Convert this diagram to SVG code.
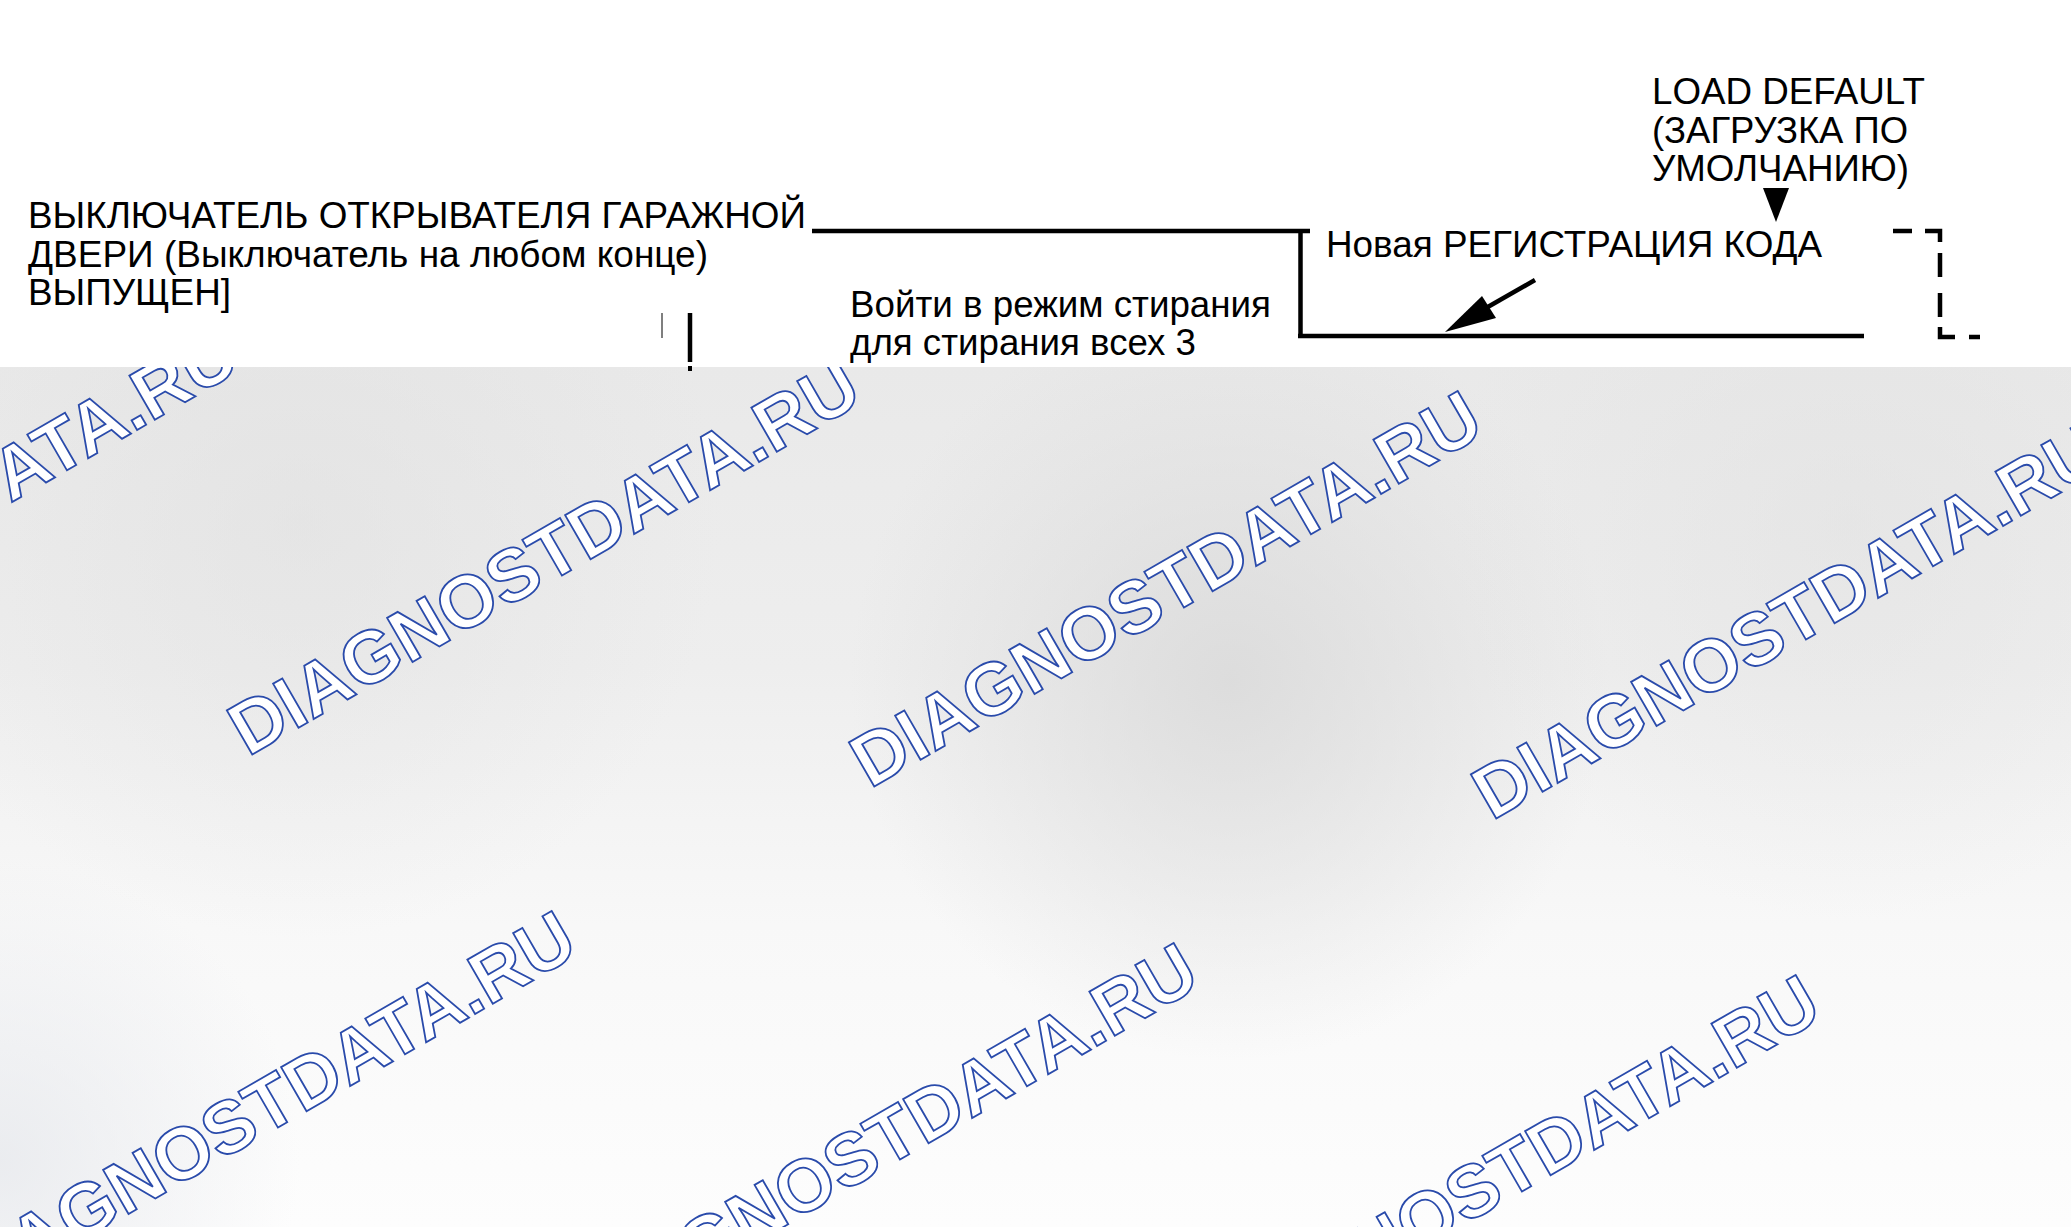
<svg xmlns="http://www.w3.org/2000/svg" width="2071" height="1227" viewBox="0 0 2071 1227">
  <style>
    .t { font-family: 'Liberation Sans', Arial, sans-serif; font-size: 36px; fill: #000; }
    .wm { font-family: 'Liberation Sans', Arial, sans-serif; font-size: 74px; font-weight: bold; fill: #ffffff; stroke: #2a4bab; stroke-width: 1.8; }
    .ln { fill: none; stroke: #000; stroke-width: 4.5; stroke-linecap: butt; stroke-linejoin: miter; }
  </style>
  <defs>
    <linearGradient id="bg" x1="0" y1="367" x2="0" y2="1227" gradientUnits="userSpaceOnUse">
      <stop offset="0" stop-color="#e9e9e9"/>
      <stop offset="0.35" stop-color="#eeeeee"/>
      <stop offset="0.65" stop-color="#f8f8f8"/>
      <stop offset="1" stop-color="#fdfdfd"/>
    </linearGradient>
    <radialGradient id="blob1" cx="1230" cy="680" r="380" gradientUnits="userSpaceOnUse">
      <stop offset="0" stop-color="#d8d8d8" stop-opacity="0.8"/>
      <stop offset="1" stop-color="#d8d8d8" stop-opacity="0"/>
    </radialGradient>
    <radialGradient id="blob2" cx="300" cy="520" r="420" gradientUnits="userSpaceOnUse">
      <stop offset="0" stop-color="#dedede" stop-opacity="0.5"/>
      <stop offset="1" stop-color="#dedede" stop-opacity="0"/>
    </radialGradient>
    <radialGradient id="blob3" cx="1850" cy="520" r="400" gradientUnits="userSpaceOnUse">
      <stop offset="0" stop-color="#e0e0e0" stop-opacity="0.5"/>
      <stop offset="1" stop-color="#e0e0e0" stop-opacity="0"/>
    </radialGradient>
    <radialGradient id="blob4" cx="0" cy="1160" r="300" gradientUnits="userSpaceOnUse">
      <stop offset="0" stop-color="#e6e8ec" stop-opacity="0.8"/>
      <stop offset="1" stop-color="#e6e8ec" stop-opacity="0"/>
    </radialGradient>
  </defs>

  <g id="background">
    <rect x="0" y="0" width="2071" height="1227" fill="#ffffff"/>
    <rect x="0" y="367" width="2071" height="860" fill="url(#bg)"/>
    <rect x="0" y="367" width="2071" height="860" fill="url(#blob1)"/>
    <rect x="0" y="367" width="2071" height="860" fill="url(#blob2)"/>
    <rect x="0" y="367" width="2071" height="860" fill="url(#blob3)"/>
    <rect x="0" y="367" width="2071" height="860" fill="url(#blob4)"/>
  </g>

  <g id="watermarks">
    <text class="wm" transform="translate(-374,725) rotate(-30)">DIAGNOSTDATA.RU</text>
    <text class="wm" transform="translate(248,757) rotate(-30)">DIAGNOSTDATA.RU</text>
    <text class="wm" transform="translate(870,789) rotate(-30)">DIAGNOSTDATA.RU</text>
    <text class="wm" transform="translate(1492,821) rotate(-30)">DIAGNOSTDATA.RU</text>
    <text class="wm" transform="translate(-36,1309) rotate(-30)">DIAGNOSTDATA.RU</text>
    <text class="wm" transform="translate(586,1341) rotate(-30)">DIAGNOSTDATA.RU</text>
    <text class="wm" transform="translate(1208,1373) rotate(-30)">DIAGNOSTDATA.RU</text>
  </g>

  <rect id="top-band" x="0" y="0" width="2071" height="367" fill="#ffffff"/>

  <g id="node-switch">
    <text class="t" x="28" y="228" textLength="778" lengthAdjust="spacingAndGlyphs">ВЫКЛЮЧАТЕЛЬ ОТКРЫВАТЕЛЯ ГАРАЖНОЙ</text>
    <text class="t" x="28" y="266.5" textLength="680" lengthAdjust="spacingAndGlyphs">ДВЕРИ (Выключатель на любом конце)</text>
    <text class="t" x="28" y="305" textLength="203" lengthAdjust="spacingAndGlyphs">ВЫПУЩЕН]</text>
  </g>

  <g id="node-erase">
    <text class="t" x="850" y="316.5" textLength="421" lengthAdjust="spacingAndGlyphs">Войти в режим стирания</text>
    <text class="t" x="850" y="354.5" textLength="346" lengthAdjust="spacingAndGlyphs">для стирания всех 3</text>
  </g>

  <g id="node-new-code">
    <text class="t" x="1326" y="257" textLength="496" lengthAdjust="spacingAndGlyphs">Новая РЕГИСТРАЦИЯ КОДА</text>
  </g>

  <g id="node-load-default">
    <text class="t" x="1652" y="104" textLength="273" lengthAdjust="spacingAndGlyphs">LOAD DEFAULT</text>
    <text class="t" x="1652" y="142.5" textLength="256" lengthAdjust="spacingAndGlyphs">(ЗАГРУЗКА ПО</text>
    <text class="t" x="1652" y="181" textLength="257" lengthAdjust="spacingAndGlyphs">УМОЛЧАНИЮ)</text>
  </g>

  <g id="connectors">
    <path class="ln" d="M812,231 H1310"/>
    <path class="ln" d="M1300.5,229 V338"/>
    <path class="ln" d="M1298,336 H1864"/>
    <path class="ln" d="M1535,280 L1486,308"/>
    <polygon points="1445,332 1482,296 1496,318" fill="#000"/>
    <polygon points="1763,188 1789,188 1776,222" fill="#000"/>
    <path class="ln" d="M1893,231 H1912 M1925,231 H1940 V242 M1940,253 V277 M1940,293 V317 M1940,327 V337 H1955 M1969,337 H1980"/>
    <path d="M662,313 V338" stroke="#555" stroke-width="1.5" fill="none"/>
    <path class="ln" d="M690,313 V362"/>
    <rect x="688" y="366" width="4" height="5" fill="#000"/>
  </g>
</svg>
